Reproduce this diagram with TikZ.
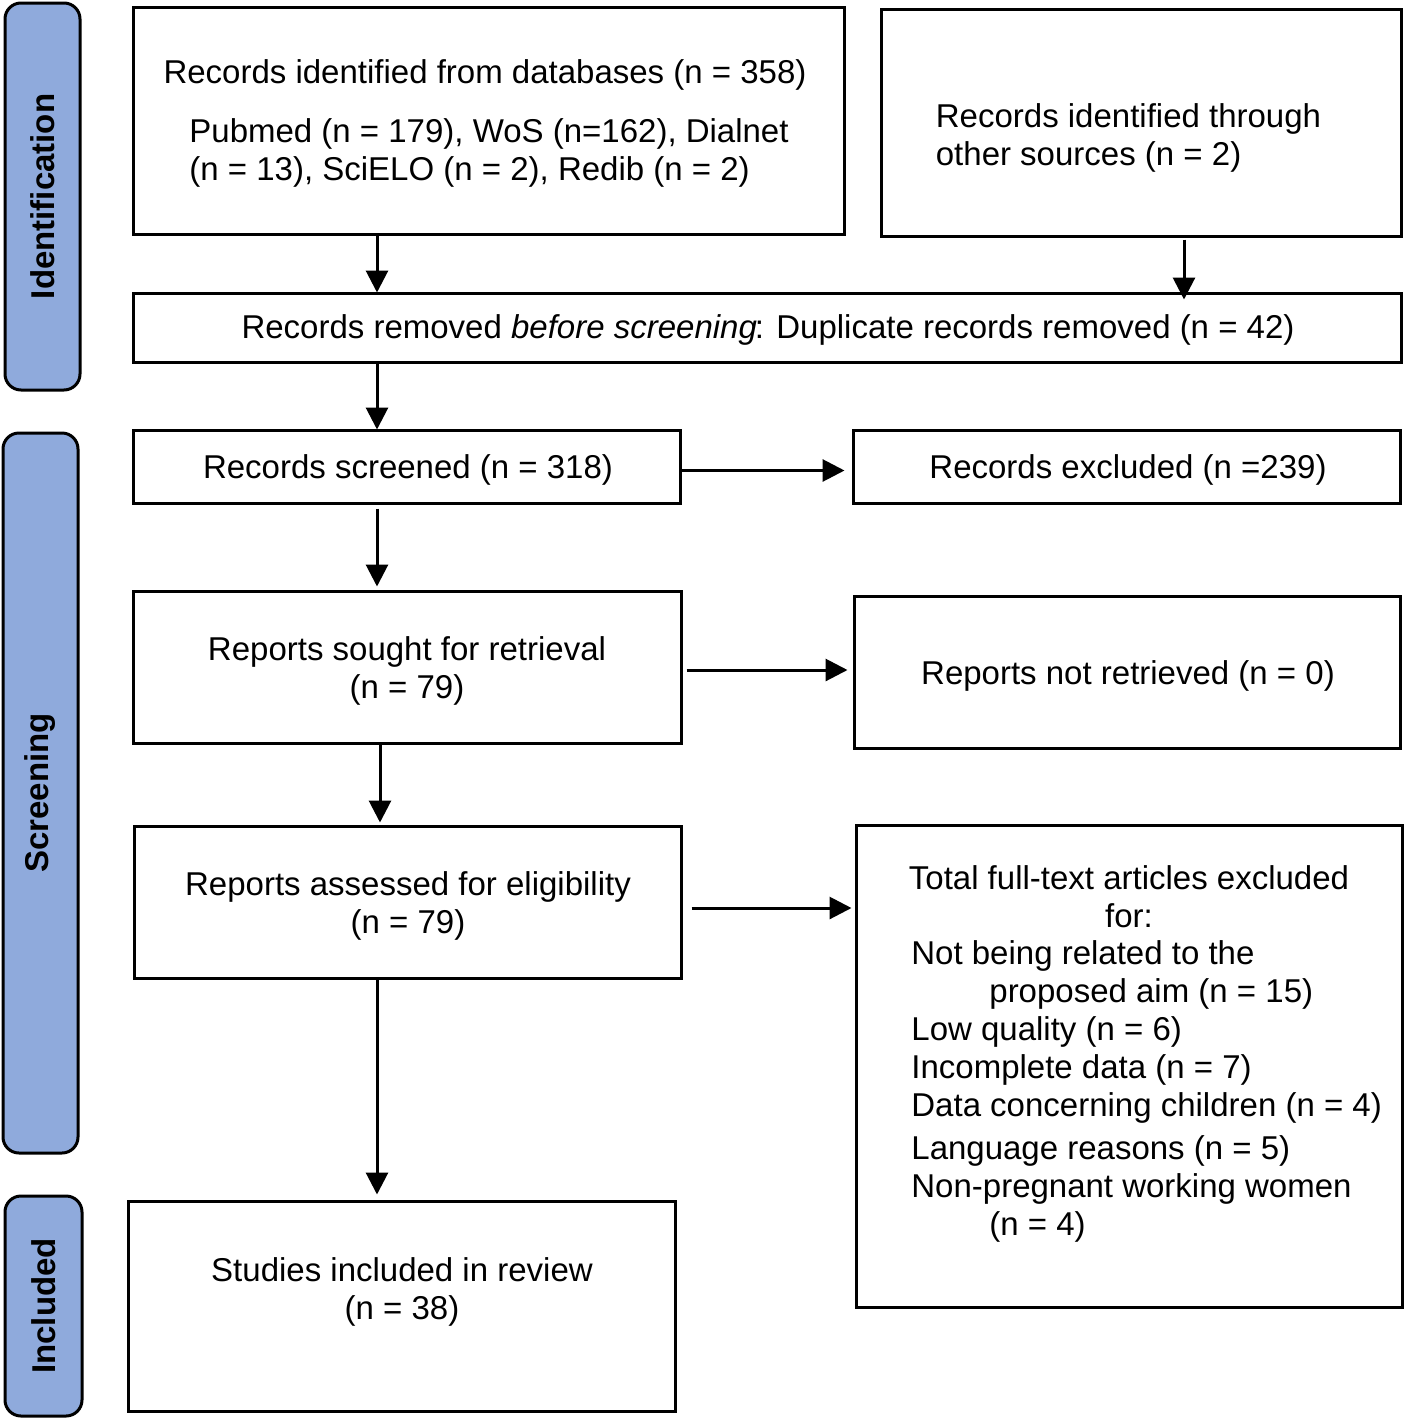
\documentclass[tikz,border=0pt]{standalone}
\usepackage{fontspec}
\setmainfont{Liberation Sans}
\usetikzlibrary{arrows.meta}
\definecolor{phase}{HTML}{8FAADC}
\begin{document}
\begin{tikzpicture}[x=0.5pt,y=-0.5pt,
  every node/.style={font=\fontsize{16.5}{19}\selectfont},
  box/.style={draw=black,line width=1.5pt,fill=white,inner sep=0pt},
  phasebox/.style={draw=black,line width=1.5pt,fill=phase,rounded corners=8pt,inner sep=0pt},
  phasetext/.style={rotate=90,font=\fontsize{16.5}{19}\selectfont\bfseries},
  txt/.style={inner sep=0pt,align=center},
  arr/.style={line width=1.5pt,-{Triangle[length=11pt,width=11pt]},shorten >=-0.5pt}]
\useasboundingbox (0,0) rectangle (1404,1419);
% phase labels
\draw[phasebox] (5,3) rectangle (80,390);
\node[phasetext] (lid) at (42.5,196.5) {Identification};
\draw[phasebox] (3,433) rectangle (78,1153);
\node[phasetext] (lsc) at (40.5,793) {Screening};
\draw[phasebox] (5,1196) rectangle (82,1416);
\node[phasetext] (lin) at (43.5,1306) {Included};
% boxes
\node[box,minimum width=355.5pt,minimum height=113.5pt] (A) at (488.5,120.5) {};
\node[txt] (At1) at (485,75) {Records identified from databases (n = 358)};
\node[txt,anchor=west,align=left] (At2) at (189,153) {Pubmed (n = 179), WoS (n=162), Dialnet\\(n = 13), SciELO (n = 2), Redib (n = 2)};
\node[box,minimum width=260pt,minimum height=113.5pt] (B) at (1141,122.5) {};
\node[txt,align=left] (Bt) at (1128.5,138) {Records identified through\\other sources (n = 2)};
\node[box,minimum width=634pt,minimum height=34.5pt] (C) at (767,327.5) {};
\node[txt] (Ct) at (768,330) {Records removed \textit{before screening}\kern-1pt: Duplicate records removed (n = 42)};
\node[box,minimum width=273.5pt,minimum height=36.5pt] (D) at (406.5,466.5) {};
\node[txt] (Dt) at (408,469.5) {Records screened (n = 318)};
\node[box,minimum width=273.5pt,minimum height=36.5pt] (E) at (1126.5,466.5) {};
\node[txt] (Et) at (1128,469.5) {Records excluded (n =239)};
\node[box,minimum width=274pt,minimum height=76pt] (F) at (407,667) {};
\node[txt] (Ft) at (407,671) {Reports sought for retrieval\\(n = 79)};
\node[box,minimum width=273pt,minimum height=76pt] (G) at (1127,672) {};
\node[txt] (Gt) at (1128,676) {Reports not retrieved (n = 0)};
\node[box,minimum width=273.5pt,minimum height=76pt] (H) at (407.5,902) {};
\node[txt] (Ht) at (408,906) {Reports assessed for eligibility\\(n = 79)};
\node[box,minimum width=273pt,minimum height=241pt] (I) at (1129,1066) {};
\node[txt] (It1) at (1129,897) {Total full-text articles excluded\\for:};
\node[txt,align=left,anchor=north west] (It2) at (911,940) {Not being related to the\\\hspace*{39pt}proposed aim (n = 15)\\Low quality (n = 6)\\Incomplete data (n = 7)\\Data concerning children (n = 4)\\[2.5pt]Language reasons (n = 5)\\Non-pregnant working women\\\hspace*{39pt}(n = 4)};
\node[box,minimum width=273.5pt,minimum height=105pt] (J) at (401.5,1306) {};
\node[txt] (Jt) at (402,1291.5) {Studies included in review\\(n = 38)};
% column coordinates
\coordinate (c1) at (377,0);
\coordinate (c2) at (1184,0);
\coordinate (c3) at (380,0);
% arrows
\draw[arr] (A.south -| c1) -- (C.north -| c1);
\draw[arr] ([yshift=-1pt]B.south -| c2) -- ([yshift=-3.5pt]C.north -| c2);
\draw[arr] (C.south -| c1) -- (D.north -| c1);
\draw[arr] ([yshift=-2pt]D.east) -- ([xshift=-4pt,yshift=-2pt]E.west);
\draw[arr] ([yshift=-2pt]D.south -| c1) -- ([yshift=2pt]F.north -| c1);
\draw[arr] ([xshift=2pt,yshift=-1.5pt]F.east) -- ([xshift=-3pt,yshift=-1.5pt]G.west |- F.east);
\draw[arr] (F.south -| c3) -- ([yshift=1.5pt]H.north -| c3);
\draw[arr] ([xshift=4.5pt,yshift=-3pt]H.east) -- ([xshift=-2pt,yshift=-3pt]I.west |- H.east);
\draw[arr] (H.south -| c1) -- ([yshift=3pt]J.north -| c1);
\end{tikzpicture}
\end{document}
